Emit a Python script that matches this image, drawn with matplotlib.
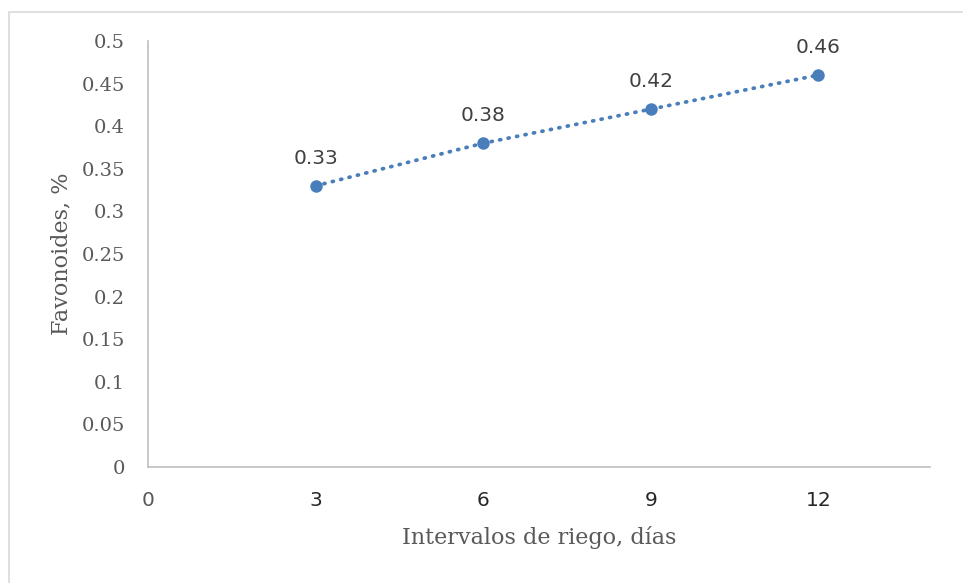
import numpy as np
import matplotlib.pyplot as plt
from matplotlib.patches import Rectangle

# data
dias = [3, 6, 9, 12]
flavonoides = [0.33, 0.38, 0.42, 0.46]
xticks = [0, 3, 6, 9, 12]
yticks = [0, 0.05, 0.1, 0.15, 0.2, 0.25, 0.3, 0.35, 0.4, 0.45, 0.5]

blue = '#4a7ebb'
grey = '#595959'

fig = plt.figure(figsize=(9.63, 5.83), dpi=100)
fig.patches.append(Rectangle((9 / 963, -0.01), 1.0, (583 - 12) / 583 + 0.01,
                             transform=fig.transFigure, fill=False,
                             edgecolor='#d9d9d9', lw=1.2))
ax = fig.add_axes([148 / 963, 116 / 583, 782 / 963, 426 / 583])

ax.plot(dias, flavonoides, ls=(0, (0.3, 2.0)), lw=2.7, color=blue,
        dash_capstyle='round', marker='o', ms=9, markeredgewidth=0)
for x, y in zip(dias, flavonoides):
    ax.annotate(f'{y:g}', (x, y), xytext=(0, 13), textcoords='offset points',
                ha='center', va='bottom', fontsize=14.5, color='#404040',
                family='DejaVu Sans')

ax.set_xlim(0, 14)
ax.set_ylim(0, 0.5)
ax.set_xticks(xticks)
ax.set_yticks(yticks)
ax.set_yticklabels([f'{v:g}' for v in yticks], family='DejaVu Serif',
                   fontsize=14, color=grey)
ax.set_xticklabels([str(v) for v in xticks], family='DejaVu Sans',
                   fontsize=14.5, color='#262626')
ax.get_xticklabels()[0].set_color(grey)
ax.tick_params(axis='both', length=0)
ax.tick_params(axis='x', pad=17)
ax.tick_params(axis='y', pad=16.5)

for s in ['top', 'right']:
    ax.spines[s].set_visible(False)
for s in ['left', 'bottom']:
    ax.spines[s].set_color('#bfbfbf')
    ax.spines[s].set_linewidth(1.2)

ax.set_xlabel('Intervalos de riego, días', family='DejaVu Serif', fontsize=16,
              color=grey, labelpad=12)
ax.set_ylabel('Favonoides, %', family='DejaVu Serif', fontsize=16,
              color=grey)
ax.yaxis.set_label_coords(-76 / 782, 0.5)

fig.savefig('out.png', dpi=100)
